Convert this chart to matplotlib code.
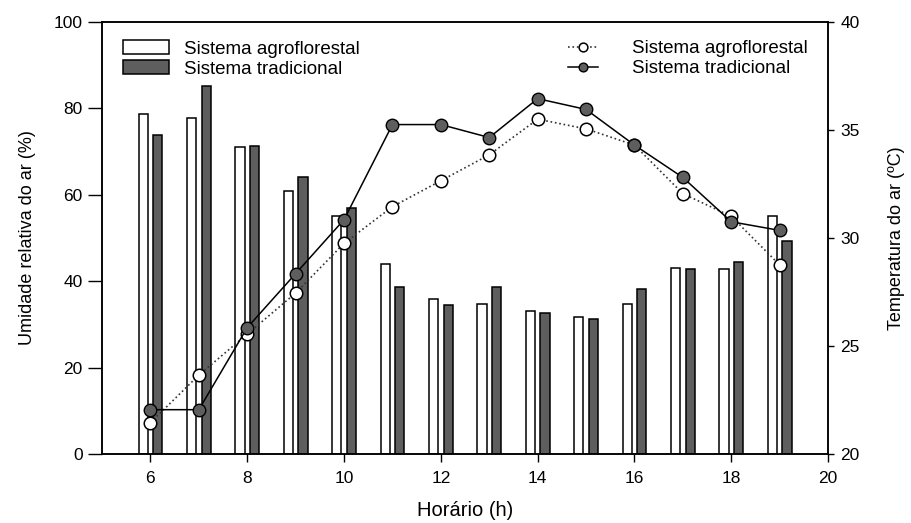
import numpy as np
import matplotlib.pyplot as plt

plt.rcParams['font.family'] = ['Liberation Sans', 'DejaVu Sans']

# hours of the day
hours = np.arange(6, 20)

# relative humidity (%) - bars
ur_agro = [78.8, 77.8, 71.1, 60.9, 55.1, 43.9, 35.8, 34.8, 33.2, 31.7, 34.8, 43.1, 42.8, 55.2]
ur_trad = [73.8, 85.2, 71.3, 64.2, 56.9, 38.6, 34.4, 38.6, 32.7, 31.3, 38.2, 42.9, 44.5, 49.4]

# air temperature (C) - lines
temp_agro = [21.45, 23.65, 25.55, 27.45, 29.75, 31.45, 32.65, 33.85, 35.5, 35.05, 34.3, 32.05, 31.0, 28.75]
temp_trad = [22.05, 22.05, 25.85, 28.35, 30.85, 35.25, 35.25, 34.65, 36.45, 35.95, 34.3, 32.8, 30.75, 30.35]

dark = '#5e5e5e'

fig = plt.figure(figsize=(9.11, 5.23), dpi=100)
ax = fig.add_axes([0.112, 0.132, 0.797, 0.826])
ax2 = ax.twinx()

w = 0.19
ax.bar(hours - 0.15, ur_agro, width=w, color='white', edgecolor='black', linewidth=1.1,
       label='Sistema agroflorestal')
ax.bar(hours + 0.15, ur_trad, width=w, color=dark, edgecolor='black', linewidth=1.1,
       label='Sistema tradicional')

ax2.plot(hours, temp_agro, linestyle=':', color='#333333', linewidth=1.2, marker='o',
         markersize=9, markerfacecolor='white', markeredgecolor='black', markeredgewidth=1.1,
         label='Sistema agroflorestal')
ax2.plot(hours, temp_trad, linestyle='-', color='black', linewidth=1.1, marker='o',
         markersize=9, markerfacecolor=dark, markeredgecolor='black', markeredgewidth=1.0,
         label='Sistema tradicional')

ax.set_xlim(5, 20)
ax.set_ylim(0, 100)
ax2.set_ylim(20, 40)
ax.set_xticks(range(6, 21, 2))
ax.set_yticks(range(0, 101, 20))
ax2.set_yticks(range(20, 41, 5))

ax.tick_params(axis='x', direction='out', length=6, width=1, labelsize=12.5, pad=6)
ax.tick_params(axis='y', direction='out', length=10, width=1, labelsize=12.5, pad=4)
ax2.tick_params(axis='y', direction='out', length=4, width=1, labelsize=12.5, pad=5)
for a in (ax, ax2):
    for s in a.spines.values():
        s.set_linewidth(1.1)

ax.set_xlabel('Horário (h)', fontsize=14.5, labelpad=11)
ax.set_ylabel('Umidade relativa do ar (%)', fontsize=13, labelpad=13)
ax2.set_ylabel('Temperatura do ar (ºC)', fontsize=13, labelpad=20)

ax.legend(loc='upper left', bbox_to_anchor=(0.005, 0.997), frameon=False, fontsize=13.5,
          handlelength=2.5, handleheight=0.75, labelspacing=0.15, handletextpad=0.8)
ax2.legend(loc='upper right', bbox_to_anchor=(0.995, 0.997), frameon=False, fontsize=13.5,
           handlelength=1.6, markerscale=0.7, labelspacing=0.15, handletextpad=1.8)

fig.savefig('out.png', dpi=100)
